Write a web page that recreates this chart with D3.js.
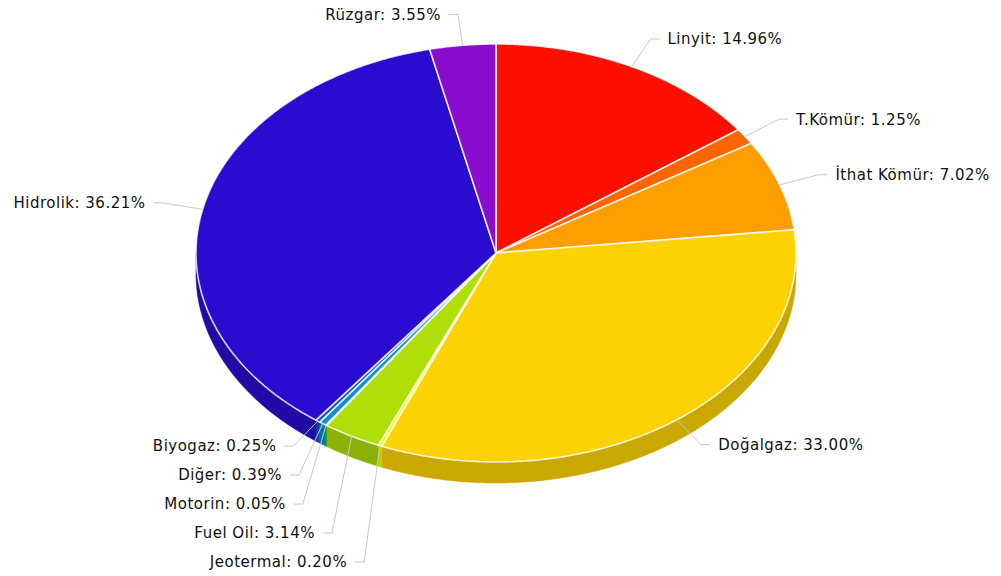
<!DOCTYPE html>
<html>
<head>
<meta charset="utf-8">
<script src="https://cdn.jsdelivr.net/npm/d3@7"></script>
<style>
  html, body { margin: 0; padding: 0; background: #fff; }
  svg { display: block; }
</style>
</head>
<body>
<svg id="chart" width="1001" height="576"></svg>
<script>
// Electricity generation share by source (%)
const categories = ["Linyit", "T.Kömür", "İthat Kömür", "Doğalgaz", "Jeotermal", "Fuel Oil",
                    "Motorin", "Diğer", "Biyogaz", "Hidrolik", "Rüzgar"];
const shares = [14.96, 1.25, 7.02, 33.00, 0.20, 3.14, 0.05, 0.39, 0.25, 36.21, 3.55];
const colors = ["#FF0F00", "#FF6600", "#FF9E01", "#FCD202", "#F8FF01", "#B0DE09",
                "#04D215", "#0D8ECF", "#0D52D1", "#2A0CD0", "#8A0CCF"];

const svg = d3.select("#chart");

// Pie geometry: flattened ellipse with a visible front rim
const cx = 496, cy = 253, rx = 300, ry = 209, depth = 21;
const labelRx = 341, labelRy = 240;   // ellipse where label lines bend
const labelGap = 29;                  // minimum vertical spacing between labels on one side

const pie = d3.pie().sort(null).value(d => d.value).startAngle(0).endAngle(2 * Math.PI);
const data = categories.map((c, i) => ({ name: c, value: shares[i], color: colors[i] }));
const arcs = pie(data);

const pt = (a, dy = 0, ex = rx, ey = ry) => [cx + ex * Math.sin(a), cy - ey * Math.cos(a) + dy];

function sample(a0, a1, dy) {
  const n = Math.max(2, Math.ceil(Math.abs(a1 - a0) / (Math.PI / 360)));
  return d3.range(n + 1).map(k => pt(a0 + (a1 - a0) * k / n, dy));
}

const line = d3.line();
const shade = c => { const r = d3.rgb(c); return d3.rgb(r.r * 0.8, r.g * 0.8, r.b * 0.8).formatHex(); };

// Front rim (only the part facing the viewer, between 90° and 270°)
const sides = svg.append("g");
arcs.forEach(a => {
  const s0 = Math.max(a.startAngle, Math.PI / 2), s1 = Math.min(a.endAngle, 3 * Math.PI / 2);
  if (s1 <= s0) return;
  const pts = sample(s0, s1, 0).concat(sample(s1, s0, depth));
  sides.append("path")
    .attr("d", line(pts) + "Z")
    .attr("fill", shade(a.data.color))
    .attr("stroke", shade(a.data.color))
    .attr("stroke-width", 0.5);
});

// Top faces
const tops = svg.append("g");
arcs.forEach(a => {
  const pts = [[cx, cy]].concat(sample(a.startAngle, a.endAngle, 0));
  tops.append("path")
    .attr("d", line(pts) + "Z")
    .attr("fill", a.data.color)
    .attr("stroke", "#fff")
    .attr("stroke-opacity", 0.8)
    .attr("stroke-width", 1.6)
    .attr("stroke-linejoin", "round");
});

// Label layout: bend points on an outer ellipse, then push apart vertically
const labels = arcs.map(a => {
  const mid = (a.startAngle + a.endAngle) / 2;
  const right = Math.sin(mid) >= 0;
  const [bx, by] = pt(mid, 0, labelRx, labelRy);
  return { a, mid, right, anchor: pt(mid), bx, by, y: by, text: `${a.data.name}: ${d3.format(".2f")(a.data.value)}%` };
});
[true, false].forEach(side => {
  const group = labels.filter(l => l.right === side).sort((p, q) => p.by - q.by);
  for (let i = 1; i < group.length; i++) {
    if (group[i].y < group[i - 1].y + labelGap) group[i].y = group[i - 1].y + labelGap;
  }
});

const lab = svg.append("g");
labels.forEach(l => {
  const dir = l.right ? 1 : -1;
  lab.append("path")
    .attr("d", line([l.anchor, [l.bx, l.y], [l.bx + dir * 9, l.y]]))
    .attr("fill", "none")
    .attr("stroke", "#c8c8c8")
    .attr("stroke-width", 1);
  lab.append("text")
    .attr("x", l.bx + dir * 17)
    .attr("y", l.y)
    .attr("dy", "0.36em")
    .attr("text-anchor", l.right ? "start" : "end")
    .attr("font-family", "DejaVu Sans, Verdana, sans-serif")
    .attr("font-size", 15)
    .attr("letter-spacing", "0.5px")
    .attr("fill", "#111")
    .text(l.text);
});
</script>
</body>
</html>
